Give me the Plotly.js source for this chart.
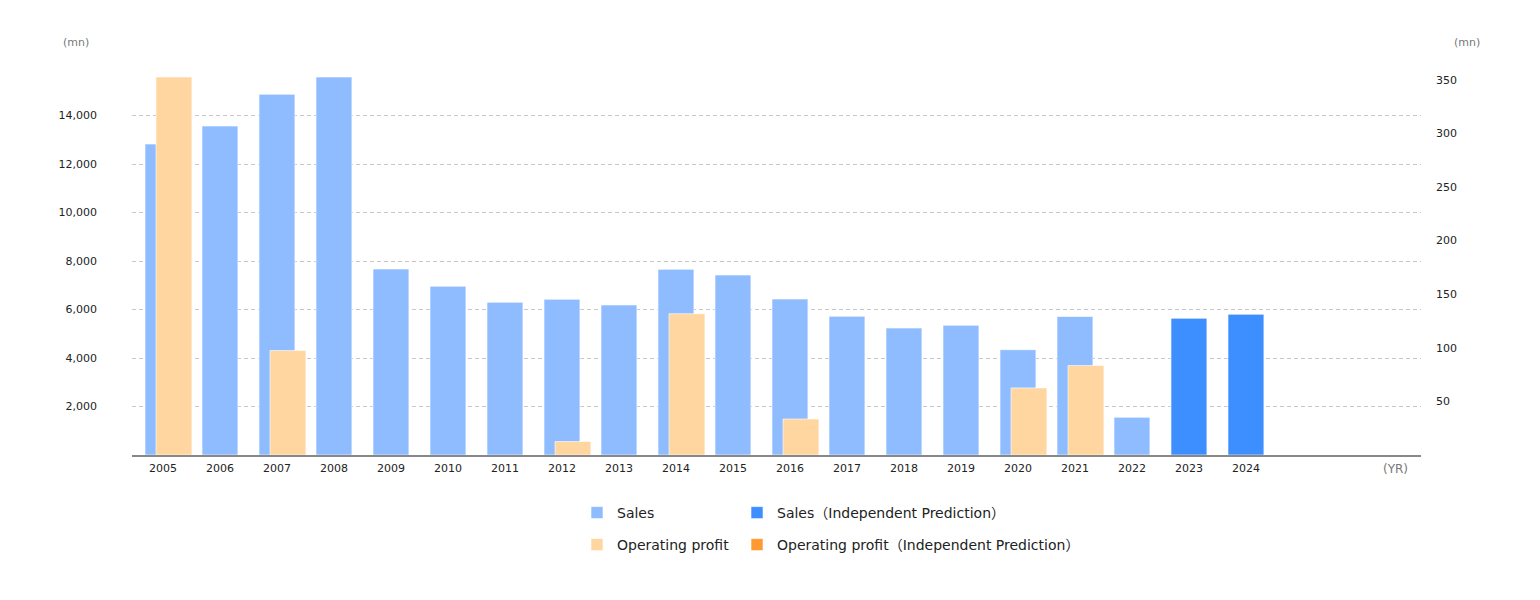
<!DOCTYPE html>
<html>
<head>
<meta charset="utf-8">
<script src="https://cdn.plot.ly/plotly-3.0.1.min.js"></script>
<style>html,body{margin:0;padding:0;background:#fff;}#chart{width:1540px;height:600px;}</style>
</head>
<body>
<div id="chart"></div>
<script>
const years = ['2005','2006','2007','2008','2009','2010','2011','2012','2013','2014','2015','2016','2017','2018','2019','2020','2021','2022','2023','2024'];
const sales = [12825,13567,14874,15588,7670,6956,6297,6421,6186,7657,7423,6433,5718,5237,5347,4342,5711,1555,null,null];
const salesPred = [null,null,null,null,null,null,null,null,null,null,null,null,null,null,null,null,null,null,5637,5802];
const opProfit = [352.6,null,97.4,null,null,null,null,12.6,null,131.8,null,33.6,null,null,null,62.6,83.4,null,null,null];
const opProfitPred = [null,null,null,null,null,null,null,null,null,null,null,null,null,null,null,null,null,null,null,null];
const leftTicks = [2000,4000,6000,8000,10000,12000,14000];
const leftTickText = ['2,000','4,000','6,000','8,000','10,000','12,000','14,000'];
const rightTicks = [50,100,150,200,250,300,350];

const FONT = 'DejaVu Sans, Noto Sans CJK JP, sans-serif';
const edge = {color:'rgba(255,255,255,0.6)', width:1};
const W = 0.63;

const traces = [
  {type:'bar', name:'Sales', x:years, y:sales, yaxis:'y', width:W, offset:-0.316,
   marker:{color:'#8ebcff', line:edge}, legend:'legend', hoverinfo:'x+y'},
  {type:'bar', name:'Sales（Independent Prediction）', x:years, y:salesPred, yaxis:'y', width:W, offset:-0.316,
   marker:{color:'#3d8eff', line:edge}, legend:'legend2', hoverinfo:'x+y'},
  {type:'bar', name:'Operating profit', x:years, y:opProfit, yaxis:'y2', width:W, offset:-0.123,
   marker:{color:'#ffd5a0', line:edge}, legend:'legend3', hoverinfo:'x+y'},
  {type:'bar', name:'Operating profit（Independent Prediction）', x:years, y:opProfitPred, yaxis:'y2', width:W, offset:-0.123,
   marker:{color:'#ff9a30', line:edge}, legend:'legend4', hoverinfo:'x+y'}
];

function px2x(p){ return (p - 14 - 132) / 1289; }
function py2y(p){ return (455 - p) / 378; }
function leg(sq, row){
  return {orientation:'h', x:px2x(sq), xanchor:'left', y:py2y(row), yanchor:'middle',
    font:{size:14, color:'#222', family:FONT}, bgcolor:'rgba(0,0,0,0)'};
}

const layout = {
  width:1540, height:600,
  margin:{l:132, r:119, t:77, b:145, pad:0},
  paper_bgcolor:'#fff', plot_bgcolor:'#fff',
  font:{family:FONT, size:11, color:'#222'},
  barmode:'overlay',
  showlegend:true,
  xaxis:{type:'category', range:[-0.544, 22.07], showgrid:false, zeroline:false,
    showline:true, linecolor:'#888', linewidth:2, ticks:'', ticklabelstandoff:2,
    tickfont:{size:11, color:'#222'}, fixedrange:true},
  yaxis:{range:[0,15588], tickvals:leftTicks, ticktext:leftTickText, showgrid:true, gridcolor:'#c8c8c8',
    griddash:'4px,3px', gridwidth:1, zeroline:false, showline:false, ticks:'', ticklabelstandoff:34,
    tickfont:{size:11, color:'#222'}, fixedrange:true},
  yaxis2:{overlaying:'y', side:'right', range:[0,352.6], tickvals:rightTicks, showgrid:false, zeroline:false,
    showline:false, ticks:'', ticklabelstandoff:14, tickfont:{size:11, color:'#222'}, fixedrange:true},
  legend:leg(591, 513),
  legend2:leg(751, 513),
  legend3:leg(591, 545),
  legend4:leg(751, 545),
  annotations:[
    {xref:'paper', yref:'paper', x:(61-132)/1289, y:(455-43)/378, xanchor:'left', yanchor:'middle',
     text:'(mn)', showarrow:false, font:{size:11, color:'#777'}},
    {xref:'paper', yref:'paper', x:(1482-132)/1289, y:(455-43)/378, xanchor:'right', yanchor:'middle',
     text:'(mn)', showarrow:false, font:{size:11, color:'#777'}},
    {xref:'paper', yref:'paper', x:(1410-132)/1289, y:(455-469)/378, xanchor:'right', yanchor:'middle',
     text:'(YR)', showarrow:false, font:{size:12, color:'#777'}}
  ]
};

Plotly.newPlot('chart', traces, layout, {displayModeBar:false});
</script>
</body>
</html>
